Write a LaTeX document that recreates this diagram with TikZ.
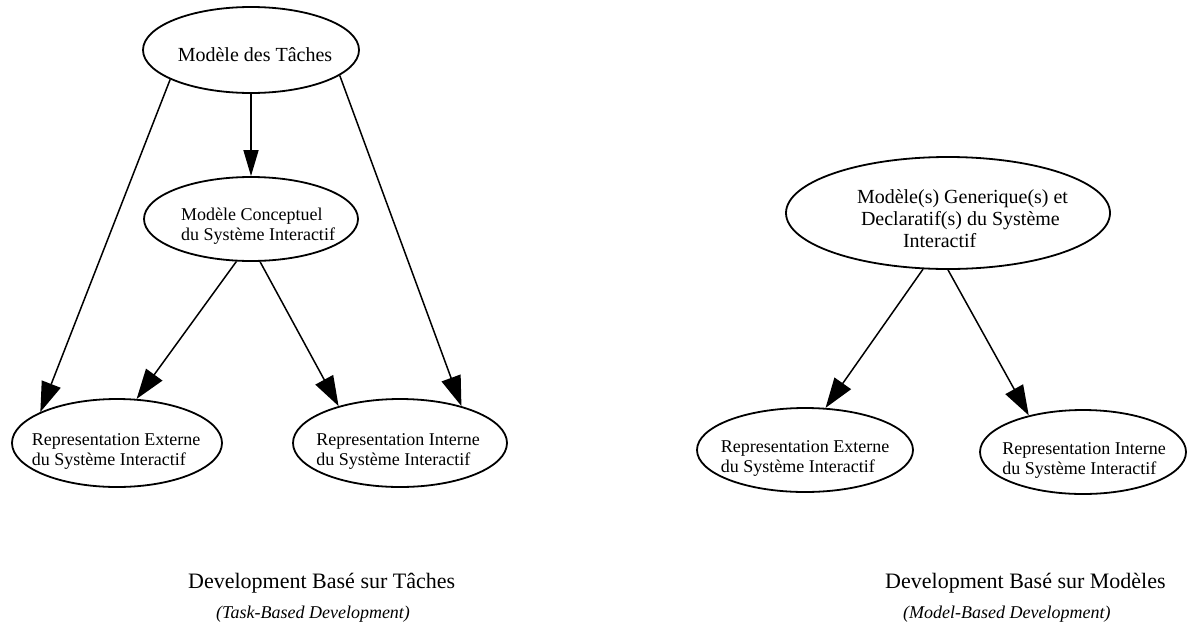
\documentclass[tikz,border=0pt]{standalone}
\usepackage{fontspec}
\setmainfont{Liberation Serif}
\usetikzlibrary{arrows.meta,shapes.geometric}

\tikzset{
  ell/.style={draw, ellipse, line width=1.8pt, inner sep=0pt},
  lbl/.style={inner sep=0pt, align=left},
  big/.style={font=\fontsize{20}{22}\selectfont},
  small/.style={font=\fontsize{18}{20}\selectfont},
  link/.style={line width=1.5pt, -{Triangle[length=30pt,width=20pt]}},
  shortlink/.style={line width=1.5pt, -{Triangle[length=26pt,width=15pt]}},
  captitle/.style={inner sep=0pt, anchor=base west, font=\fontsize{22}{26}\selectfont},
  capsub/.style={inner sep=0pt, anchor=base west, font=\fontsize{18}{22}\selectfont\itshape},
}

\begin{document}
\begin{tikzpicture}[x=1pt, y=-1pt]
  \path[use as bounding box] (0,0) rectangle (1198,635);

  % ---- task-based development ----
  \node[ell, minimum width=216pt, minimum height=86pt] (mt) at (251,50) {};
  \node[lbl, big] (mtt) at (255,55) {Modèle des Tâches};

  \node[ell, minimum width=214pt, minimum height=84pt] (mc) at (251,219) {};
  \node[lbl, small] (mct) at (258,226) {Modèle Conceptuel\\du Système Interactif};

  \node[ell, minimum width=210pt, minimum height=88pt] (rel) at (117,443) {};
  \node[lbl, small] (relt) at (116,451) {Representation Externe\\du Système Interactif};

  \node[ell, minimum width=214pt, minimum height=88pt] (ril) at (400,443) {};
  \node[lbl, small] (rilt) at (398,451) {Representation Interne\\du Système Interactif};

  \draw[shortlink] (mt.south) -- (mc.north);
  \draw[link] (mt.200) -- (rel.158);
  \draw[link] (mt.344) -- (ril.31);
  \draw[link] (mc.251) -- (rel.66);
  \draw[link] (mc.282) -- (ril.149);

  % ---- model-based development ----
  \node[ell, minimum width=324pt, minimum height=112pt] (mg) at (948,213) {};
  \node[lbl, big] (mgt) at (962.5,219)
    {Modèle(s) Generique(s) et\\\hspace*{4pt}Declaratif(s) du Système\\\hspace*{46pt}Interactif};

  \node[ell, minimum width=216pt, minimum height=84pt] (rer) at (805,450) {};
  \node[lbl, small] (rert) at (805,458) {Representation Externe\\du Système Interactif};

  \node[ell, minimum width=206pt, minimum height=84pt] (rir) at (1083,452) {};
  \node[lbl, small] (rirt) at (1084,460) {Representation Interne\\du Système Interactif};

  \draw[link] (mg.246) -- (rer.64);
  \draw[link] (mg.south) -- (rir.146);

  % ---- captions ----
  \node[captitle] (c1) at (188,588) {Development Basé sur Tâches};
  \node[capsub] (c1s) at (216,618) {(Task-Based Development)};
  \node[captitle] (c2) at (885,588) {Development Basé sur Modèles};
  \node[capsub] (c2s) at (903,618) {(Model-Based Development)};
\end{tikzpicture}
\end{document}
